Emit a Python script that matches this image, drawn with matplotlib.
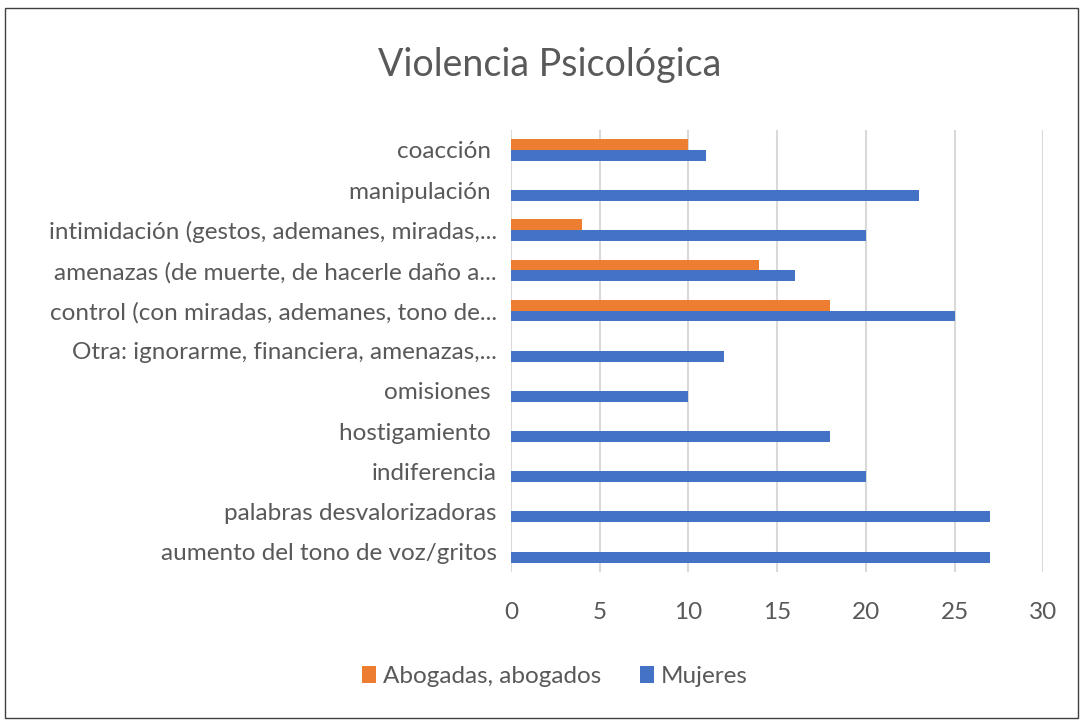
import numpy as np
import matplotlib
matplotlib.use('Agg')
from matplotlib import pyplot as plt
from matplotlib.patches import Rectangle

# categories listed bottom to top
categories = [
    'aumento del tono de voz/gritos',
    'palabras desvalorizadoras',
    'indiferencia',
    'hostigamiento ',
    'omisiones ',
    'Otra: ignorarme, financiera, amenazas,...',
    'control (con miradas, ademanes, tono de...',
    'amenazas (de muerte, de hacerle daño a...',
    'intimidación (gestos, ademanes, miradas,...',
    'manipulación ',
    'coacción ',
]
mujeres = [27, 27, 20, 18, 10, 12, 25, 16, 20, 23, 11]
abogadas = [0, 0, 0, 0, 0, 0, 18, 14, 4, 0, 10]
series_names = ['Abogadas, abogados', 'Mujeres']

orange = '#ED7D31'
blue = '#4472C4'
gray = '#595959'

plt.rcParams['font.family'] = ['Lato', 'DejaVu Sans']

fig = plt.figure(figsize=(10.8, 7.21), dpi=100)
ax = fig.add_axes([0.473, 0.207, 0.493, 0.613])

y = np.arange(len(categories))
h = 0.27
ax.barh(y + h / 2, abogadas, height=h, color=orange, linewidth=0, label=series_names[0], zorder=3)
ax.barh(y - h / 2, mujeres, height=h, color=blue, linewidth=0, label=series_names[1], zorder=3)

ax.set_xlim(0, 30)
ax.set_ylim(-0.5, len(categories) - 0.5)
ax.set_xticks(range(0, 31, 5))
ax.set_yticks(y)
ax.set_yticklabels(categories)
ax.tick_params(axis='both', length=0, labelcolor=gray, labelsize=17.5)
ax.tick_params(axis='y', pad=10)
ax.tick_params(axis='x', pad=22)
ax.grid(axis='x', color='#d9d9d9', linewidth=1.5, zorder=0)
for s in ax.spines.values():
    s.set_visible(False)

fig.text(0.509, 0.91, 'Violencia Psicológica', ha='center', va='center',
         fontsize=27, color=gray)

fig.legend(loc='center', bbox_to_anchor=(0.514, 0.062), ncol=2, frameon=False,
           fontsize=17.5, labelcolor=gray, handlelength=0.55, handleheight=0.7,
           handletextpad=0.3, columnspacing=1.6)

fig.patches.append(Rectangle((0.005, 0.004), 0.993, 0.985, transform=fig.transFigure,
                             fill=False, edgecolor='#404040', linewidth=1))

fig.savefig('out.png', dpi=100)
